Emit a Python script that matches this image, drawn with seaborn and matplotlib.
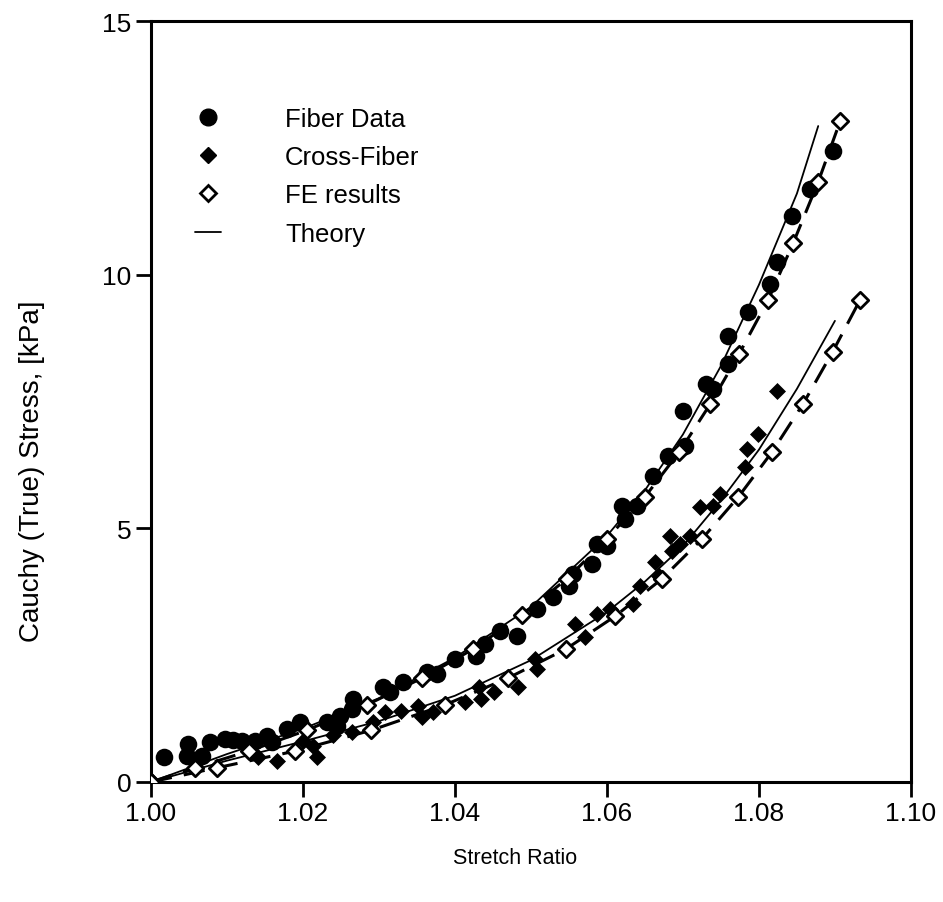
import numpy as np
import pandas as pd
import matplotlib
matplotlib.use('Agg')
import matplotlib.pyplot as plt
import seaborn as sns
from matplotlib.lines import Line2D

# fiber direction data (filled circles)
fiber_x = [1.0017, 1.0047, 1.0049, 1.0067, 1.0078, 1.0097, 1.0108, 1.0120, 1.0137, 1.0153,
           1.0160, 1.0179, 1.0196, 1.0232, 1.0245, 1.0249, 1.0264, 1.0266, 1.0305, 1.0314,
           1.0332, 1.0363, 1.0376, 1.0400, 1.0428, 1.0440, 1.0459, 1.0482, 1.0508, 1.0529,
           1.0550, 1.0555, 1.0580, 1.0587, 1.0600, 1.0620, 1.0624, 1.0640, 1.0660, 1.0680,
           1.0700, 1.0703, 1.0731, 1.0740, 1.0759, 1.0759, 1.0786, 1.0814, 1.0824, 1.0843,
           1.0867, 1.0897]
fiber_y = [0.49, 0.51, 0.75, 0.51, 0.79, 0.85, 0.83, 0.81, 0.81, 0.91,
           0.79, 1.04, 1.18, 1.18, 1.10, 1.30, 1.44, 1.64, 1.87, 1.77,
           1.97, 2.17, 2.13, 2.42, 2.48, 2.72, 2.98, 2.88, 3.41, 3.65,
           3.86, 4.10, 4.30, 4.69, 4.65, 5.44, 5.18, 5.44, 6.03, 6.43,
           7.31, 6.62, 7.85, 7.75, 8.79, 8.24, 9.26, 9.82, 10.25, 11.16,
           11.69, 12.44]

# cross-fiber data (filled diamonds)
cross_x = [1.0141, 1.0166, 1.0200, 1.0213, 1.0218, 1.0240, 1.0264, 1.0292, 1.0308, 1.0329,
           1.0351, 1.0357, 1.0371, 1.0413, 1.0432, 1.0434, 1.0451, 1.0483, 1.0505, 1.0508,
           1.0558, 1.0571, 1.0587, 1.0604, 1.0634, 1.0643, 1.0663, 1.0668, 1.0686, 1.0683,
           1.0696, 1.0709, 1.0722, 1.0740, 1.0749, 1.0782, 1.0784, 1.0799, 1.0824]
cross_y = [0.49, 0.41, 0.81, 0.71, 0.49, 0.93, 0.99, 1.18, 1.38, 1.40,
           1.50, 1.28, 1.38, 1.58, 1.87, 1.64, 1.77, 1.87, 2.42, 2.23,
           3.11, 2.86, 3.31, 3.41, 3.51, 3.86, 4.34, 4.06, 4.55, 4.85,
           4.69, 4.85, 5.42, 5.44, 5.68, 6.21, 6.56, 6.86, 7.71]

# FE results (open diamonds), fiber and cross-fiber directions
fe_fiber_x = [1.0, 1.0058, 1.0129, 1.0205, 1.0284, 1.0357, 1.0424, 1.0488, 1.0547, 1.0600,
              1.0650, 1.0695, 1.0736, 1.0774, 1.0812, 1.0845, 1.0878, 1.0907]
fe_fiber_y = [0.0, 0.28, 0.61, 1.02, 1.52, 2.05, 2.62, 3.29, 4.00, 4.79,
              5.62, 6.50, 7.45, 8.44, 9.50, 10.62, 11.83, 13.03]
fe_cross_x = [1.0, 1.0087, 1.0190, 1.0290, 1.0387, 1.0470, 1.0546, 1.0611, 1.0672, 1.0725,
              1.0773, 1.0817, 1.0858, 1.0897, 1.0933]
fe_cross_y = [0.0, 0.28, 0.61, 1.02, 1.52, 2.05, 2.62, 3.27, 4.00, 4.79,
              5.62, 6.50, 7.45, 8.48, 9.50]

# theory curves
th_fiber_x = [1.000, 1.010, 1.020, 1.030, 1.040, 1.050, 1.060, 1.065, 1.070, 1.075, 1.080, 1.085, 1.0878]
th_fiber_y = [0.0, 0.55, 1.05, 1.65, 2.45, 3.45, 4.85, 5.75, 6.85, 8.2, 9.8, 11.6, 12.93]
th_cross_x = [1.000, 1.010, 1.020, 1.030, 1.040, 1.050, 1.060, 1.065, 1.070, 1.075, 1.080, 1.085, 1.090]
th_cross_y = [0.0, 0.42, 0.80, 1.20, 1.70, 2.40, 3.35, 3.95, 4.65, 5.55, 6.55, 7.75, 9.09]

x_ticks = [1.00, 1.02, 1.04, 1.06, 1.08, 1.10]
y_ticks = [0, 5, 10, 15]

sns.set_style('white')
plt.rcParams['font.family'] = ['Liberation Sans', 'DejaVu Sans']
plt.rcParams['text.color'] = 'black'
plt.rcParams['axes.labelcolor'] = 'black'

fig = plt.figure(figsize=(9.43, 9.03), dpi=100)
ax = fig.add_axes([0.160, 0.1329, 0.806, 0.8427])

# theory (thin solid)
sns.lineplot(x=th_fiber_x, y=th_fiber_y, color='black', lw=1.3, sort=False, estimator=None, ax=ax)
sns.lineplot(x=th_cross_x, y=th_cross_y, color='black', lw=1.3, sort=False, estimator=None, ax=ax)

# FE (dashed connecting line + open diamonds)
for fx, fy in [(fe_fiber_x, fe_fiber_y), (fe_cross_x, fe_cross_y)]:
    sns.lineplot(x=fx, y=fy, color='black', lw=2.2, sort=False, estimator=None,
                 linestyle=(0, (7, 4)), ax=ax)

sns.scatterplot(x=fiber_x, y=fiber_y, color='black', marker='o', s=160,
                edgecolor='black', linewidth=0, ax=ax, zorder=3)
sns.scatterplot(x=cross_x, y=cross_y, color='black', marker='D', s=75,
                edgecolor='black', linewidth=0, ax=ax, zorder=3)
for fx, fy in [(fe_fiber_x, fe_fiber_y), (fe_cross_x, fe_cross_y)]:
    sns.scatterplot(x=fx, y=fy, color='white', marker='D', s=70,
                    edgecolor='black', linewidth=2.0, ax=ax, zorder=4)

ax.set_xlim(1.00, 1.10)
ax.set_ylim(0, 15)
ax.set_xticks(x_ticks)
ax.set_xticklabels(['%.2f' % t for t in x_ticks])
ax.set_yticks(y_ticks)
ax.tick_params(bottom=True, left=True, direction='out', length=11, width=2,
               labelsize=19, colors='black', pad=3)
for s in ax.spines.values():
    s.set_linewidth(2.2)
    s.set_color('black')

ax.set_xlabel('Stretch Ratio', fontsize=15.5)
ax.set_ylabel('Cauchy (True) Stress, [kPa]', fontsize=20)
ax.xaxis.set_label_coords(0.479, -0.085)
ax.yaxis.set_label_coords(-0.139, 0.41)

handles = [
    Line2D([], [], color='black', marker='o', linestyle='none', markersize=12),
    Line2D([], [], color='black', marker='D', linestyle='none', markersize=8),
    Line2D([], [], color='black', marker='D', markerfacecolor='white', markeredgewidth=2,
           linestyle='none', markersize=8),
    Line2D([], [], color='black', lw=1.3),
]
labels = ['Fiber Data', 'Cross-Fiber', 'FE results', 'Theory']
ax.legend(handles, labels, loc='upper left', bbox_to_anchor=(0.028, 0.918), frameon=False,
          fontsize=18.5, handlelength=1.0, handletextpad=2.5, labelspacing=0.56)

fig.savefig('out.png', dpi=100)
